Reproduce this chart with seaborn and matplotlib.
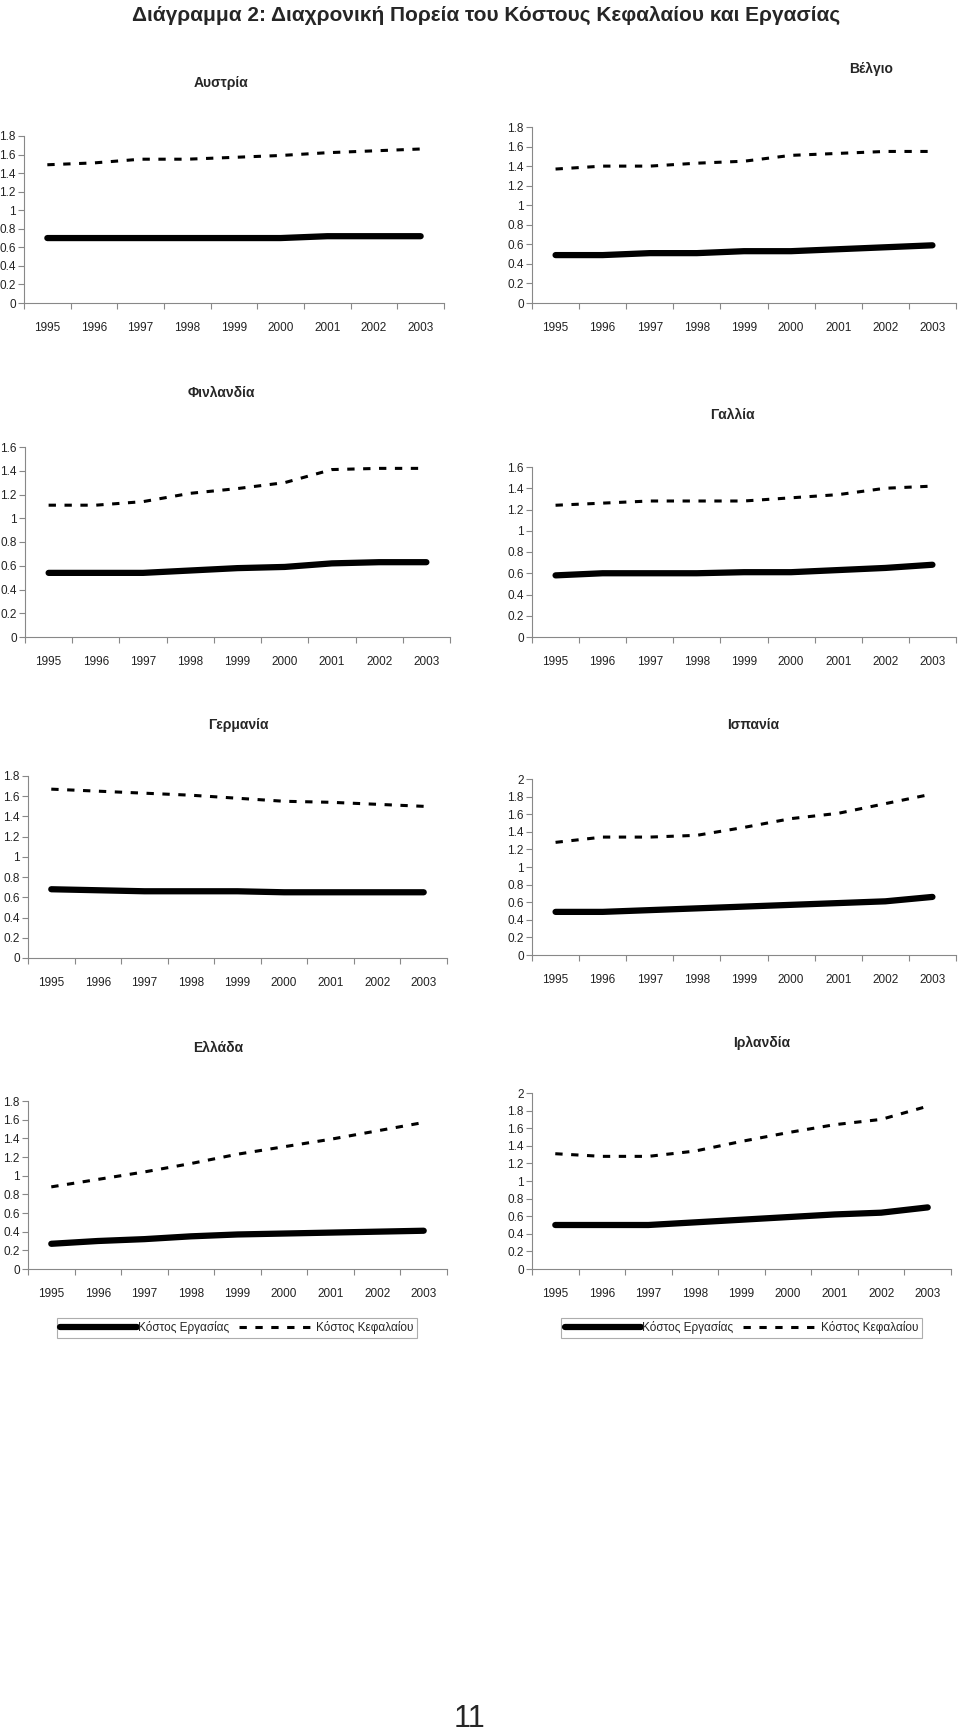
import numpy as np
import pandas as pd
import matplotlib
matplotlib.use('Agg')
import matplotlib.pyplot as plt
import seaborn as sns
from matplotlib.ticker import FixedLocator, NullFormatter

sns.set_theme(style='white')
plt.rcParams['font.family'] = ['Liberation Sans', 'DejaVu Sans']

years = [1995, 1996, 1997, 1998, 1999, 2000, 2001, 2002, 2003]
year_labels = [str(y) for y in years]

countries = ['Αυστρία', 'Βέλγιο', 'Φινλανδία', 'Γαλλία',
             'Γερμανία', 'Ισπανία', 'Ελλάδα', 'Ιρλανδία']

# Κόστος Εργασίας
labour_at = [0.70, 0.70, 0.70, 0.70, 0.70, 0.70, 0.72, 0.72, 0.72]
labour_be = [0.49, 0.49, 0.51, 0.51, 0.53, 0.53, 0.55, 0.57, 0.59]
labour_fi = [0.54, 0.54, 0.54, 0.56, 0.58, 0.59, 0.62, 0.63, 0.63]
labour_fr = [0.58, 0.60, 0.60, 0.60, 0.61, 0.61, 0.63, 0.65, 0.68]
labour_de = [0.68, 0.67, 0.66, 0.66, 0.66, 0.65, 0.65, 0.65, 0.65]
labour_es = [0.49, 0.49, 0.51, 0.53, 0.55, 0.57, 0.59, 0.61, 0.66]
labour_gr = [0.27, 0.30, 0.32, 0.35, 0.37, 0.38, 0.39, 0.40, 0.41]
labour_ie = [0.50, 0.50, 0.50, 0.53, 0.56, 0.59, 0.62, 0.64, 0.70]

# Κόστος Κεφαλαίου
capital_at = [1.49, 1.51, 1.55, 1.55, 1.57, 1.59, 1.62, 1.64, 1.66]
capital_be = [1.37, 1.40, 1.40, 1.43, 1.45, 1.51, 1.53, 1.55, 1.55]
capital_fi = [1.11, 1.11, 1.14, 1.21, 1.25, 1.30, 1.41, 1.42, 1.42]
capital_fr = [1.24, 1.26, 1.28, 1.28, 1.28, 1.31, 1.34, 1.40, 1.42]
capital_de = [1.67, 1.65, 1.63, 1.61, 1.58, 1.55, 1.54, 1.52, 1.50]
capital_es = [1.28, 1.34, 1.34, 1.36, 1.45, 1.55, 1.61, 1.72, 1.83]
capital_gr = [0.88, 0.96, 1.04, 1.13, 1.23, 1.31, 1.39, 1.48, 1.57]
capital_ie = [1.31, 1.28, 1.28, 1.34, 1.45, 1.55, 1.64, 1.70, 1.85]

labour = [labour_at, labour_be, labour_fi, labour_fr, labour_de, labour_es, labour_gr, labour_ie]
capital = [capital_at, capital_be, capital_fi, capital_fr, capital_de, capital_es, capital_gr, capital_ie]
y_max = [1.8, 1.8, 1.6, 1.6, 1.8, 2.0, 1.8, 2.0]

W, H = 960, 1736
fig = plt.figure(figsize=(W / 100, H / 100), dpi=100)
fig.patch.set_facecolor('white')

# axes boxes in pixels: left, right, top, bottom
boxes = [(24, 444, 136, 303), (532, 956, 127, 303),
         (25, 450, 447, 637), (532, 956, 467, 637),
         (28, 447, 776, 958), (532, 956, 779, 955),
         (28, 447, 1101, 1269), (532, 951, 1093, 1269)]
# panel title positions (x centre, y centre) in pixels
title_pos = [(221, 83), (871, 69), (221, 393), (732, 415),
             (238, 725), (753, 725), (218, 1048), (762, 1043)]

fig.text(486, H - 15, 'Διάγραμμα 2: Διαχρονική Πορεία του Κόστους Κεφαλαίου και Εργασίας',
         transform=None, ha='center', va='center', fontsize=15, fontweight='bold')

axes = []
for i, name in enumerate(countries):
    l, r, t, b = boxes[i]
    ax = fig.add_axes([l / W, 1 - b / H, (r - l) / W, (b - t) / H])
    axes.append(ax)
    x = np.arange(len(years))
    sns.lineplot(x=x, y=labour[i], ax=ax, color='black', linewidth=4.5,
                 solid_capstyle='round', label='Κόστος Εργασίας', legend=False)
    sns.lineplot(x=x, y=capital[i], ax=ax, color='black', linewidth=2.2,
                 linestyle=(0, (2.4, 2.8)), label='Κόστος Κεφαλαίου', legend=False)
    ax.set_xlim(-0.5, len(years) - 0.5)
    ax.set_ylim(0, y_max[i])
    yt = np.round(np.arange(0, y_max[i] + 0.01, 0.2), 1)
    ax.set_yticks(yt)
    ax.set_yticklabels([f'{v:g}' for v in yt])
    ax.xaxis.set_major_locator(FixedLocator(np.arange(-0.5, len(years), 1.0)))
    ax.xaxis.set_major_formatter(NullFormatter())
    ax.set_xticks(x, minor=True)
    ax.set_xticklabels(year_labels, minor=True)
    ax.tick_params(axis='x', which='major', length=4, width=0.8, color='#888888', direction='out')
    ax.tick_params(axis='x', which='minor', length=0, pad=14, labelsize=8.5, labelcolor='#222222')
    ax.tick_params(axis='y', length=4, width=0.8, color='#888888', direction='out',
                   pad=2, labelsize=8.5, labelcolor='#222222')
    ax.tick_params(bottom=True, left=True)
    for s in ['top', 'right']:
        ax.spines[s].set_visible(False)
    for s in ['left', 'bottom']:
        ax.spines[s].set_color('#888888')
        ax.spines[s].set_linewidth(0.8)
    ax.set_xlabel('')
    ax.set_ylabel('')
    ax.grid(False)
    ax.set_facecolor('white')
    tx, ty = title_pos[i]
    fig.text(tx, H - ty, name, transform=None, ha='center', va='center',
             fontsize=10, fontweight='bold')

# legends under the bottom row
legend_boxes = [(60, 414, 1317, 1339), (564, 919, 1317, 1339)]
for ax, (l, r, t, b) in zip(axes[6:], legend_boxes):
    handles, labels = ax.get_legend_handles_labels()
    leg = ax.legend(handles, labels, loc='center',
                    bbox_to_anchor=(((l + r) / 2) / W, 1 - ((t + b) / 2) / H),
                    bbox_transform=fig.transFigure, ncol=2, frameon=True, fancybox=False,
                    fontsize=8.5, handlelength=6.5, handletextpad=0.1, columnspacing=0.8,
                    borderpad=0.3, borderaxespad=0)
    leg.get_frame().set_edgecolor('#999999')
    leg.get_frame().set_linewidth(0.8)

fig.text(470, 2, '11', transform=None, ha='center', va='bottom', fontsize=22)

fig.savefig('out.png', dpi=100, facecolor='white')
